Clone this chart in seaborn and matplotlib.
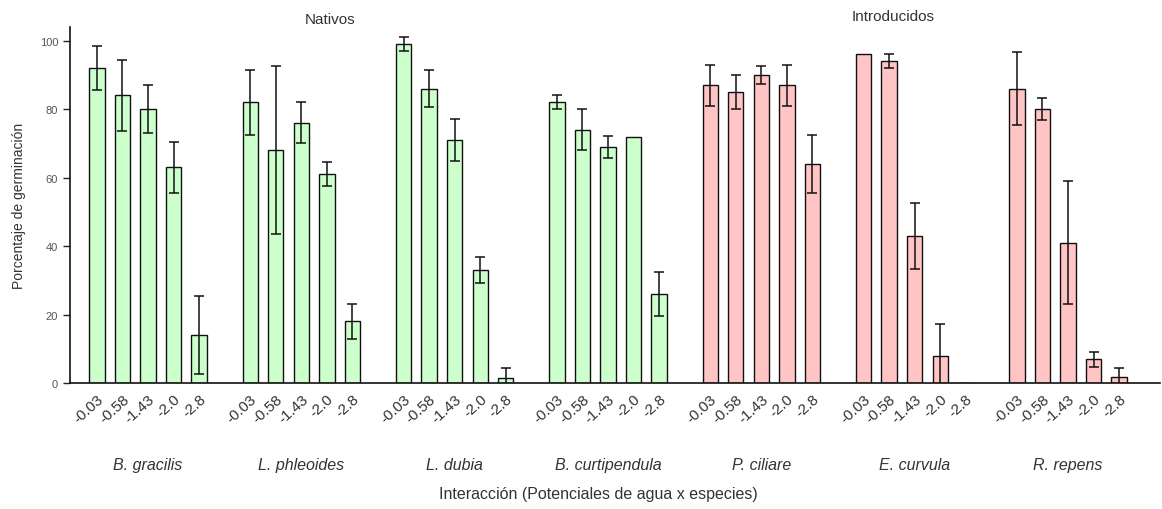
import numpy as np
import pandas as pd
import matplotlib
matplotlib.use("Agg")
import matplotlib.pyplot as plt
import matplotlib.transforms as mtransforms
import seaborn as sns

# Germination (%) per species and water potential (MPa), with error half-widths
potenciales = ["-0.03", "-0.58", "-1.43", "-2.0", "-2.8"]
especies = ["B. gracilis", "L. phleoides", "L. dubia", "B. curtipendula",
            "P. ciliare", "E. curvula", "R. repens"]
origen = ["Nativos", "Nativos", "Nativos", "Nativos",
          "Introducidos", "Introducidos", "Introducidos"]

b_gracilis = [92, 84, 80, 63, 14]
l_phleoides = [82, 68, 76, 61, 18]
l_dubia = [99, 86, 71, 33, 1.5]
b_curtipendula = [82, 74, 69, 72, 26]
p_ciliare = [87, 85, 90, 87, 64]
e_curvula = [96, 94, 43, 8, 0]
r_repens = [86, 80, 41, 7, 1.7]

err_b_gracilis = [6.5, 10.5, 7, 7.5, 11.3]
err_l_phleoides = [9.5, 24.5, 6, 3.5, 5]
err_l_dubia = [2, 5.3, 6, 3.7, 3]
err_b_curtipendula = [2, 6, 3.3, 0, 6.3]
err_p_ciliare = [6, 5, 2.7, 6, 8.5]
err_e_curvula = [0, 2, 9.7, 9.3, 0]
err_r_repens = [10.7, 3.2, 18, 2.2, 2.6]

valores = [b_gracilis, l_phleoides, l_dubia, b_curtipendula,
           p_ciliare, e_curvula, r_repens]
errores = [err_b_gracilis, err_l_phleoides, err_l_dubia, err_b_curtipendula,
           err_p_ciliare, err_e_curvula, err_r_repens]

# Long table; each species occupies 5 slots plus one empty slot as a gap
n_pot = len(potenciales)
filas = []
for g, (sp, org, vals, errs) in enumerate(zip(especies, origen, valores, errores)):
    for j, (p, v, e) in enumerate(zip(potenciales, vals, errs)):
        filas.append({"pos": g * (n_pot + 1) + j, "especie": sp, "origen": org,
                      "potencial": p, "germ": v, "err": e})
df = pd.DataFrame(filas)

sns.set_theme(style="ticks")
plt.rcParams["font.family"] = ["Liberation Sans", "DejaVu Sans"]

fig = plt.figure(figsize=(11.62, 5.10), dpi=100)
ax = fig.add_axes([70 / 1162, 1 - 384 / 510, (1160 - 70) / 1162, (384 - 28) / 510])

paleta = {"Nativos": "#ccffcc", "Introducidos": "#ffc4c4"}
sns.barplot(data=df, x="pos", y="germ", hue="origen", palette=paleta,
            native_scale=True, dodge=False, width=0.6, errorbar=None,
            edgecolor="#111111", linewidth=1.0, saturation=1, legend=False, ax=ax)

con_err = df[df["err"] > 0]
ax.errorbar(con_err["pos"], con_err["germ"], yerr=con_err["err"], fmt="none",
            ecolor="#111111", elinewidth=1.1, capsize=3.6, capthick=1.1, zorder=5)

ax.set_xlim(-1.05, 41.6)
ax.set_ylim(0, 104)
ax.set_yticks([0, 20, 40, 60, 80, 100])
ax.tick_params(axis="y", labelsize=8, length=5, width=1, colors="#222222",
               labelcolor="#555555")
ax.set_xticks(df["pos"])
ax.set_xticklabels(df["potencial"], rotation=42, ha="right",
                   rotation_mode="anchor", fontsize=11, color="#333333")
ax.tick_params(axis="x", length=0, pad=6)
sns.despine(ax=ax)
for s in ["left", "bottom"]:
    ax.spines[s].set_color("#111111")
    ax.spines[s].set_linewidth(1.2)

ax.set_xlabel("")
ax.set_ylabel("Porcentaje de germinación", fontsize=10, color="#333333", labelpad=10)

# Species names under each group
trans = mtransforms.blended_transform_factory(ax.transData, ax.transAxes)
for g, sp in enumerate(especies):
    centro = df.loc[df["especie"] == sp, "pos"].mean()
    ax.text(centro, -0.23, sp, transform=trans, ha="center", va="center",
            fontsize=11.5, style="italic", color="#333333")

# Origin titles above the plot
fig.text(330 / 1162, 1 - 20 / 510, "Nativos", ha="center", va="center",
         fontsize=11, color="#333333")
fig.text(893 / 1162, 1 - 17 / 510, "Introducidos", ha="center", va="center",
         fontsize=11, color="#333333")

fig.text(598 / 1162, 1 - 495 / 510, "Interacción (Potenciales de agua x especies)",
         ha="center", va="center", fontsize=11.5, color="#333333")

fig.savefig("out.png", dpi=100, facecolor="white")
